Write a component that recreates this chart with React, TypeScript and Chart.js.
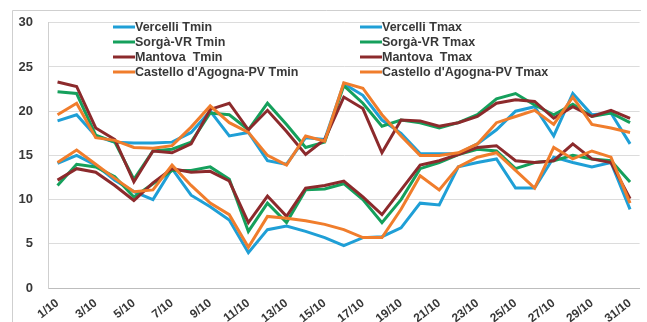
import React, { useEffect, useRef } from "react";
import { Chart, registerables } from "chart.js";

Chart.register(...registerables);

// October days
const days = [
  "1/10", "2/10", "3/10", "4/10", "5/10", "6/10", "7/10", "8/10", "9/10", "10/10",
  "11/10", "12/10", "13/10", "14/10", "15/10", "16/10", "17/10", "18/10", "19/10", "20/10",
  "21/10", "22/10", "23/10", "24/10", "25/10", "26/10", "27/10", "28/10", "29/10", "30/10", "31/10",
];

// Daily minimum temperatures (°C)
const vercelliTmin = [14.1, 15.0, 13.9, 12.2, 10.9, 10.0, 13.5, 10.5, 9.2, 7.7, 4.0, 6.6, 7.0, 6.4, 5.7, 4.8, 5.7, 5.8, 6.8, 9.6, 9.4, 13.7, 14.2, 14.6, 11.3, 11.3, 14.8, 14.2, 13.7, 14.2, 8.9];
const sorgaTmin = [11.6, 14.0, 13.7, 12.6, 10.3, 11.8, 13.3, 13.3, 13.7, 12.3, 6.4, 9.6, 7.4, 11.1, 11.2, 11.8, 10.0, 7.4, 10.0, 13.5, 14.2, 15.1, 15.7, 15.5, 13.5, 14.2, 14.4, 15.0, 14.6, 14.4, 12.0];
const mantovaTmin = [12.2, 13.5, 13.1, 11.6, 9.9, 11.9, 13.5, 13.1, 13.2, 12.1, 7.4, 10.4, 8.1, 11.3, 11.6, 12.1, 10.3, 8.3, 11.1, 13.9, 14.4, 15.1, 15.9, 16.1, 14.4, 14.2, 14.4, 16.3, 14.6, 14.2, 10.1];
const castelloTmin = [14.2, 15.6, 14.0, 12.4, 10.9, 11.1, 13.9, 11.6, 9.6, 8.3, 4.6, 8.1, 7.9, 7.6, 7.2, 6.6, 5.7, 5.7, 8.9, 12.7, 11.1, 13.7, 14.8, 15.3, 13.3, 11.3, 15.9, 14.6, 15.5, 14.8, 9.6];

// Daily maximum temperatures (°C)
const vercelliTmax = [18.9, 19.6, 17.2, 16.5, 16.4, 16.4, 16.5, 17.6, 20.0, 17.2, 17.6, 14.4, 14.0, 17.0, 16.8, 23.1, 21.8, 19.0, 17.5, 15.2, 15.2, 15.2, 16.3, 17.9, 20.0, 20.5, 17.2, 22.0, 19.6, 19.8, 16.3];
const sorgaTmax = [22.2, 22.0, 17.3, 16.5, 12.3, 15.5, 15.7, 16.5, 19.8, 19.6, 17.9, 20.9, 18.5, 15.9, 16.5, 22.9, 20.9, 18.3, 19.0, 18.7, 18.1, 18.7, 19.6, 21.4, 22.0, 20.7, 19.6, 20.8, 19.4, 19.8, 18.7];
const mantovaTmax = [23.3, 22.8, 18.1, 16.8, 12.0, 15.5, 15.3, 16.3, 20.2, 20.9, 17.9, 20.1, 17.7, 15.1, 16.8, 21.6, 20.3, 15.3, 19.0, 18.9, 18.3, 18.7, 19.4, 20.9, 21.3, 21.1, 19.2, 20.5, 19.4, 20.1, 19.2];
const castelloTmax = [19.6, 20.9, 17.0, 16.7, 15.9, 15.8, 16.1, 18.2, 20.6, 18.7, 17.6, 15.0, 13.9, 17.2, 16.6, 23.2, 22.6, 19.6, 17.2, 15.0, 15.0, 15.3, 16.3, 18.7, 19.4, 20.1, 18.5, 21.6, 18.5, 18.1, 17.6];

const yTicks = [0, 5, 10, 15, 20, 25, 30];

const BLUE = "#1f9fd6";
const GREEN = "#15a05c";
const RED = "#8c2a2c";
const ORANGE = "#f07d2c";

// Legend entries: left column minimums, right column maximums
const legendMin = [
  { label: "Vercelli Tmin", color: BLUE },
  { label: "Sorgà-VR Tmin", color: GREEN },
  { label: "Mantova  Tmin", color: RED },
  { label: "Castello d'Agogna-PV Tmin", color: ORANGE },
];
const legendMax = [
  { label: "Vercelli Tmax", color: BLUE },
  { label: "Sorgà-VR Tmax", color: GREEN },
  { label: "Mantova  Tmax", color: RED },
  { label: "Castello d'Agogna-PV Tmax", color: ORANGE },
];

const FONT = '"Liberation Sans", Arial, sans-serif';
const TEXT = "#383838";

// Outer frame of the chart box
const framePlugin = {
  id: "frame",
  beforeDraw(chart: any) {
    const { ctx, width, height } = chart;
    ctx.save();
    ctx.fillStyle = "#ffffff";
    ctx.fillRect(0, 0, width, height);
    ctx.strokeStyle = "#cfcfcf";
    ctx.lineWidth = 1;
    ctx.beginPath();
    ctx.moveTo(12.5, height);
    ctx.lineTo(12.5, 10.5);
    ctx.lineTo(width - 6, 10.5);
    ctx.stroke();
    ctx.restore();
  },
};

// Two-column legend drawn over the top of the plot
const legendPlugin = {
  id: "twoColumnLegend",
  afterDatasetsDraw(chart: any) {
    const { ctx } = chart;
    ctx.save();
    ctx.font = `bold 12.5px ${FONT}`;
    ctx.textBaseline = "middle";
    ctx.textAlign = "left";
    const columns = [
      { x: 113, items: legendMin },
      { x: 360, items: legendMax },
    ];
    columns.forEach((col) => {
      col.items.forEach((item, i) => {
        const y = 27 + i * 15;
        ctx.strokeStyle = item.color;
        ctx.lineWidth = 3;
        ctx.beginPath();
        ctx.moveTo(col.x, y);
        ctx.lineTo(col.x + 22, y);
        ctx.stroke();
        ctx.fillStyle = TEXT;
        ctx.fillText(item.label, col.x + 22, y + 0.5);
      });
    });
    ctx.restore();
  },
};

function series(label: string, data: number[], color: string, order: number) {
  return {
    label,
    data,
    borderColor: color,
    backgroundColor: color,
    borderWidth: 3,
    pointRadius: 0,
    tension: 0,
    fill: false,
    order,
  };
}

export default function App() {
  const canvasRef = useRef<HTMLCanvasElement | null>(null);

  useEffect(() => {
    document.body.style.margin = "0";
    const canvas = canvasRef.current;
    if (!canvas) return;
    const chart = new Chart(canvas, {
      type: "line",
      data: {
        labels: days,
        datasets: [
          series("Vercelli Tmin", vercelliTmin, BLUE, 3),
          series("Vercelli Tmax", vercelliTmax, BLUE, 3),
          series("Sorgà-VR Tmin", sorgaTmin, GREEN, 2),
          series("Sorgà-VR Tmax", sorgaTmax, GREEN, 2),
          series("Mantova  Tmin", mantovaTmin, RED, 1),
          series("Mantova  Tmax", mantovaTmax, RED, 1),
          series("Castello d'Agogna-PV Tmin", castelloTmin, ORANGE, 0),
          series("Castello d'Agogna-PV Tmax", castelloTmax, ORANGE, 0),
        ],
      },
      options: {
        animation: false,
        responsive: false,
        maintainAspectRatio: false,
        layout: { padding: { left: 0, right: 5, top: 18, bottom: 0 } },
        plugins: {
          legend: { display: false },
          tooltip: { enabled: false },
        },
        scales: {
          x: {
            offset: true,
            grid: { display: false, drawTicks: false },
            border: { display: true, color: "#bdbdbd", width: 1 },
            ticks: {
              autoSkip: false,
              minRotation: 38,
              maxRotation: 38,
              padding: 8,
              color: TEXT,
              font: { family: FONT, size: 12, weight: "bold" },
              callback: (_v: any, i: number) => (i % 2 === 0 ? days[i] : ""),
            },
            afterFit: (scale: any) => {
              scale.height = 34;
            },
          },
          y: {
            min: yTicks[0],
            max: yTicks[yTicks.length - 1],
            afterBuildTicks: (scale: any) => {
              scale.ticks = yTicks.map((v) => ({ value: v }));
            },
            grid: { color: "#dcdcdc", lineWidth: 1, drawTicks: false },
            border: { display: true, color: "#cfcfcf", width: 1 },
            ticks: {
              padding: 15,
              color: TEXT,
              font: { family: FONT, size: 13, weight: "bold" },
            },
            afterFit: (scale: any) => {
              scale.width = 48;
            },
          },
        },
      },
      plugins: [framePlugin, legendPlugin],
    });
    return () => chart.destroy();
  }, []);

  return (
    <div style={{ width: 647, height: 322 }}>
      <canvas ref={canvasRef} width={647} height={322} style={{ display: "block" }} />
    </div>
  );
}
